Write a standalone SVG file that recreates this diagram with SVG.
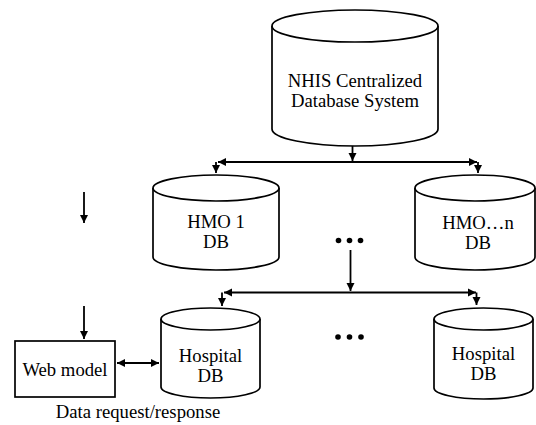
<svg xmlns="http://www.w3.org/2000/svg" width="536" height="425" viewBox="0 0 536 425">
<style>
.shape{fill:#fff;stroke:#000;stroke-width:1.7}
.ln{fill:none;stroke:#000;stroke-width:1.8}
text{font-family:"Liberation Serif","Times New Roman",serif;font-size:18.7px;fill:#000;text-anchor:middle}
</style>
<defs>
<marker id="ah" viewBox="0 0 10 10" refX="10" refY="5" markerWidth="4.5" markerHeight="4.5" orient="auto-start-reverse" markerUnits="strokeWidth">
<path d="M0,0 L10,5 L0,10 z" fill="#000"/>
</marker>
</defs>
<rect width="536" height="425" fill="#fff"/>
<g id="nhis">
<path class="shape" d="M272,26 V129 A83,17 0 0 0 438,129 V26"/>
<ellipse class="shape" cx="355" cy="26" rx="83" ry="16"/>
<text x="355" y="87">NHIS Centralized</text>
<text x="355" y="107">Database System</text>
</g>
<g id="hmo1">
<path class="shape" d="M153,188 V257 A63,13 0 0 0 279,257 V188"/>
<ellipse class="shape" cx="216" cy="188" rx="63" ry="13"/>
<text x="216" y="228">HMO 1</text>
<text x="216" y="248">DB</text>
</g>
<g id="hmon">
<path class="shape" d="M415,188 V257 A60,13 0 0 0 535,257 V188"/>
<ellipse class="shape" cx="475" cy="188" rx="60" ry="13"/>
<text x="478" y="229">HMO…n</text>
<text x="478" y="249">DB</text>
</g>
<g id="hosp1">
<path class="shape" d="M161,319 V387 A49.5,11 0 0 0 260,387 V319"/>
<ellipse class="shape" cx="210.5" cy="319" rx="49.5" ry="11"/>
<text x="210.5" y="362">Hospital</text>
<text x="210.5" y="382">DB</text>
</g>
<g id="hosp2">
<path class="shape" d="M434,319 V388 A49.5,11 0 0 0 533,388 V319"/>
<ellipse class="shape" cx="483.5" cy="319" rx="49.5" ry="11"/>
<text x="483.5" y="360">Hospital</text>
<text x="483.5" y="380">DB</text>
</g>
<g id="web">
<rect class="shape" x="15" y="341" width="100" height="56"/>
<text x="65" y="376">Web model</text>
</g>
<g id="dots1">
<circle cx="338.5" cy="240.5" r="2.8"/>
<circle cx="349.5" cy="240.5" r="2.8"/>
<circle cx="360.5" cy="240.5" r="2.8"/>
</g>
<g id="dots2">
<circle cx="338" cy="337" r="2.8"/>
<circle cx="349.5" cy="337" r="2.8"/>
<circle cx="361" cy="337" r="2.8"/>
</g>
<g id="label">
<text x="138" y="418">Data request/response</text>
</g>
<g id="connectors">
<line class="ln" x1="352.5" y1="146" x2="352.5" y2="161" marker-end="url(#ah)"/>
<line class="ln" x1="218" y1="162" x2="477" y2="162" marker-start="url(#ah)" marker-end="url(#ah)"/>
<line class="ln" x1="216" y1="162" x2="216" y2="173" marker-end="url(#ah)"/>
<line class="ln" x1="478" y1="162" x2="478" y2="173" marker-end="url(#ah)"/>
<line class="ln" x1="350.5" y1="250" x2="350.5" y2="291" marker-end="url(#ah)"/>
<line class="ln" x1="224" y1="292.5" x2="476" y2="292.5" marker-start="url(#ah)" marker-end="url(#ah)"/>
<line class="ln" x1="222" y1="292.5" x2="222" y2="306" marker-end="url(#ah)"/>
<line class="ln" x1="476.5" y1="292.5" x2="476.5" y2="305" marker-end="url(#ah)"/>
<line class="ln" x1="84" y1="192" x2="84" y2="223" marker-end="url(#ah)"/>
<line class="ln" x1="84" y1="306" x2="84" y2="339" marker-end="url(#ah)"/>
<line class="ln" x1="117" y1="363" x2="159" y2="363" marker-start="url(#ah)" marker-end="url(#ah)"/>
</g>
</svg>
